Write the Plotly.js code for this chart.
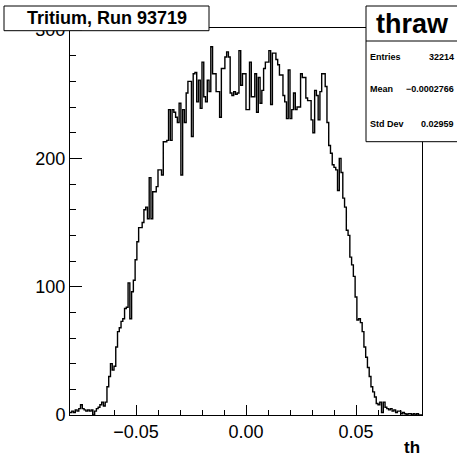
<!DOCTYPE html>
<html><head><meta charset="utf-8">
<script src="https://cdn.plot.ly/plotly-3.0.1.min.js"></script>
<style>html,body{margin:0;padding:0;background:#fff;} #plot{width:457px;height:457px;}</style>
</head><body><div id="plot"></div>
<script>
const histTitle = "Tritium, Run 93719";
const histName = "thraw";
const xAxisTitle = "th";
const nBins = 200;
const xMin = -0.08;
const xMax = 0.08;
const counts = [
  2,3,2,4,3,5,8,5,4,3,
  4,3,4,0,3,5,6,8,10,7,
  10,22,30,40,35,38,53,65,68,73,
  75,83,84,103,75,96,105,121,135,146,
  146,150,160,162,153,185,153,174,174,178,
  191,191,187,213,213,214,238,214,238,236,
  232,228,243,187,238,228,251,260,260,217,
  266,267,244,261,239,275,248,244,261,252,
  287,266,266,252,252,232,270,270,279,283,
  279,251,249,252,250,251,284,257,266,266,
  238,238,275,248,248,266,236,263,243,253,
  270,275,275,284,242,282,282,277,273,265,
  265,249,244,231,269,231,238,251,238,240,
  240,266,263,263,247,245,245,230,220,253,
  249,230,252,266,266,256,228,210,204,195,
  193,191,175,200,189,169,162,144,140,123,
  117,108,92,74,75,72,65,53,45,37,
  30,22,18,14,9,8,10,2,10,6,
  5,4,5,3,4,2,3,3,1,2,
  1,0,1,1,0,1,0,1,0,0
];
const statLabels = ["Entries", "Mean", "Std Dev"];
const statValues = ["32214", "\u22120.0002766", "0.02959"];
const yMax = 301.6;

const FONT = "Liberation Sans, Arial, Helvetica, sans-serif";
const w = (xMax - xMin) / nBins;
const xs = counts.map((_, i) => xMin + i * w).concat([xMax]);
const ys = counts.concat([counts[counts.length - 1]]);

// pixel -> paper helpers (plot area: x 70..422, y 28..415)
const L = 70, R = 422, T = 28, B = 415;
const px = x => (x - L) / (R - L);
const py = y => (B - y) / (B - T);

const trace = {
  type: 'scatter', mode: 'lines', x: xs, y: ys,
  line: {shape: 'hv', color: '#000', width: 1.4},
  hoverinfo: 'skip'
};

const statY = [57, 88.5, 124];
const annotations = [
  {xref:'paper', yref:'paper', x:px(106.5), y:py(18.3), xanchor:'center', yanchor:'middle', showarrow:false,
   text:'<b>' + histTitle + '</b>', font:{family:FONT, size:18, color:'#000'}},
  {xref:'paper', yref:'paper', x:px(412), y:py(24), xanchor:'center', yanchor:'middle', showarrow:false,
   text:'<b>' + histName + '</b>', font:{family:FONT, size:27, color:'#000'}},
  {xref:'paper', yref:'paper', x:px(421.7), y:py(447), xanchor:'right', yanchor:'middle', showarrow:false,
   text:'<b>' + xAxisTitle + '</b>', font:{family:FONT, size:17, color:'#000'}}
];
statLabels.forEach((lab, k) => {
  annotations.push({xref:'paper', yref:'paper', x:px(368), y:py(statY[k]), xanchor:'left', yanchor:'middle', showarrow:false,
    text:'<b>' + lab + '</b>', font:{family:FONT, size:9, color:'#000'}});
  annotations.push({xref:'paper', yref:'paper', x:px(456), y:py(statY[k]), xanchor:'right', yanchor:'middle', showarrow:false,
    text:'<b>' + statValues[k] + '</b>', font:{family:FONT, size:9, color:'#000'}});
});

const shapes = [
  {type:'rect', xref:'paper', yref:'paper', x0:px(4), x1:px(209), y0:py(30.7), y1:py(6),
   line:{color:'#000', width:1}, fillcolor:'#fff', layer:'above'},
  {type:'rect', xref:'paper', yref:'paper', x0:px(366), x1:px(460), y0:py(141.7), y1:py(6),
   line:{color:'#000', width:1}, fillcolor:'#fff', layer:'above'},
  {type:'line', xref:'paper', yref:'paper', x0:px(366), x1:px(460), y0:py(41), y1:py(41),
   line:{color:'#000', width:1}, layer:'above'}
];

const layout = {
  width: 457, height: 457,
  margin: {l: L, r: 457 - R, t: T, b: 457 - B, pad: 0},
  paper_bgcolor: '#fff', plot_bgcolor: '#fff',
  showlegend: false,
  xaxis: {
    range: [xMin, xMax], tick0: 0, dtick: 0.05, tickformat: '.2f',
    ticks: 'inside', ticklen: 10, tickwidth: 1, tickcolor: '#000',
    showline: true, linecolor: '#000', linewidth: 1, mirror: true,
    showgrid: false, zeroline: false,
    tickfont: {family: FONT, size: 18, color: '#000'},
    minor: {tick0: 0, dtick: 0.01, ticks: 'inside', ticklen: 5, tickcolor: '#000', tickwidth: 1, showgrid: false}
  },
  yaxis: {
    range: [0, yMax], tick0: 0, dtick: 100,
    ticks: 'inside', ticklen: 12, tickwidth: 1, tickcolor: '#000',
    showline: true, linecolor: '#000', linewidth: 1, mirror: true,
    showgrid: false, zeroline: false,
    tickfont: {family: FONT, size: 18, color: '#000'},
    minor: {tick0: 0, dtick: 20, ticks: 'inside', ticklen: 6, tickcolor: '#000', tickwidth: 1, showgrid: false}
  },
  shapes: shapes,
  annotations: annotations
};

Plotly.newPlot('plot', [trace], layout, {staticPlot: true, displayModeBar: false});
</script>
</body></html>
